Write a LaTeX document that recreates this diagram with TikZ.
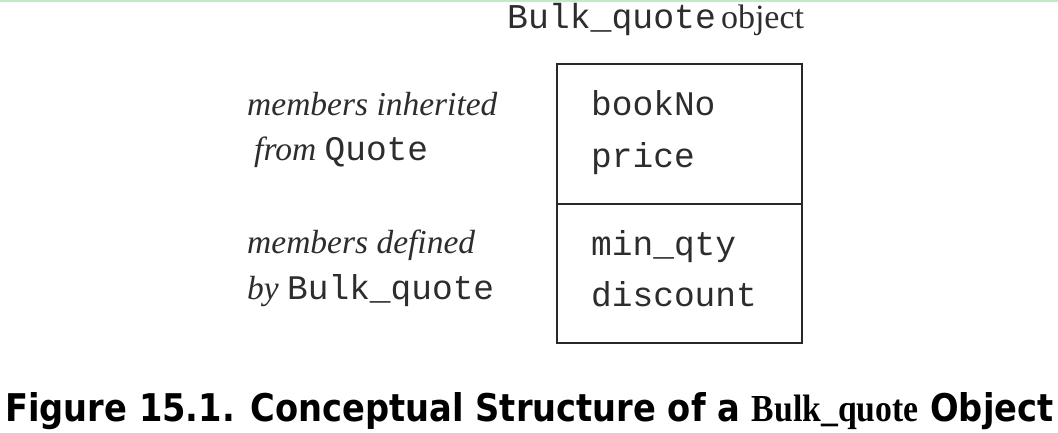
\documentclass[tikz,border=0pt]{standalone}
\usepackage{fontspec}
\usepackage{graphicx}
\setmainfont{Liberation Serif}
\setmonofont{Liberation Mono}
\newfontfamily\capfont{DejaVu Sans}
\definecolor{topgreen}{RGB}{188,238,198}
\definecolor{boxline}{RGB}{40,40,40}
\definecolor{txt}{RGB}{45,45,45}
\tikzset{
  lbl/.style={anchor=base west, inner sep=0pt, text=txt, font=\fontsize{33.5}{38}\selectfont\itshape},
  mem/.style={anchor=base west, inner sep=0pt, text=txt, font=\fontsize{34.5}{40}\selectfont\ttfamily},
  part/.style={draw=boxline, line width=1.8pt, minimum width=245pt, anchor=north west, inner sep=0pt},
}
\begin{document}
\begin{tikzpicture}[x=1pt,y=-1pt]
\fill[white] (0,0) rectangle (1058,432);
\useasboundingbox (0,0) rectangle (1058,432);
\coordinate (gl) at (0,1);
\coordinate (gr) at (1058,1);
\draw[topgreen, line width=2pt] (gl) -- (gr);
% title
\node[anchor=base west, inner sep=0pt, text=txt] (title) at (507,28)
  {{\fontsize{34.8}{38}\selectfont\ttfamily Bulk\_quote}\hspace{5pt}{\fontsize{34}{38}\selectfont object}};
% box
\node[part, minimum height=140pt] (upper) at (556,63) {};
\node[part, minimum height=139pt] (lower) at (556,203) {};
% members
\node[mem] (bookNo) at (591,115) {bookNo};
\node[mem] (price) at (591,167) {price};
\node[mem] (minqty) at (591,255) {min\_qty};
\node[mem] (discount) at (591,306) {discount};
% labels
\node[lbl] (inh1) at (247,115) {members inherited};
\node[lbl] (inh2) at (254,160) {from {\upshape\ttfamily\fontsize{34.5}{40}\selectfont Quote}};
\node[lbl] (def1) at (247,253) {members defined};
\node[lbl] (def2) at (247,299) {by {\upshape\ttfamily\fontsize{34.5}{40}\selectfont Bulk\_quote}};
% caption
\node[anchor=base west, inner sep=0pt] (caption) at (5,421)
  {\resizebox{1048pt}{29pt}{\capfont\bfseries Figure 15.1. Conceptual Structure of a {\rmfamily\bfseries Bulk\_quote} Object}};
\end{tikzpicture}
\end{document}
